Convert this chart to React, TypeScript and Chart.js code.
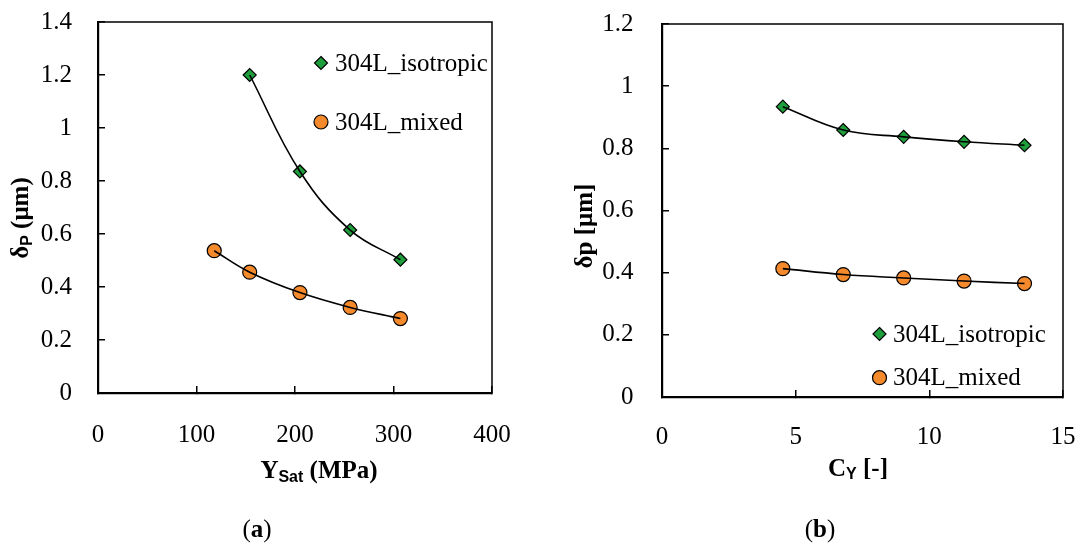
import React, { useEffect, useRef } from 'react';
import { Chart, registerables } from 'chart.js';

Chart.register(...registerables);

// ---- data ----
const seriesNames = ['304L_isotropic', '304L_mixed'];
// (a) delta_P vs Y_Sat
const ySatIsotropic = [154, 205, 256, 307];
const deltaIsotropicA = [1.2, 0.836, 0.615, 0.503];
const ySatMixed = [118, 154, 205, 256, 307];
const deltaMixedA = [0.537, 0.456, 0.379, 0.323, 0.281];
// (b) delta_p vs C_Y
const cY = [4.52, 6.78, 9.04, 11.3, 13.56];
const deltaIsotropicB = [0.934, 0.859, 0.837, 0.821, 0.81];
const deltaMixedB = [0.413, 0.394, 0.383, 0.373, 0.365];

const GREEN = '#1f9e3c';
const ORANGE = '#f58a2c';
const SERIF = "'Liberation Serif', 'Times New Roman', serif";
const SANS = "'Liberation Sans', Arial, sans-serif";

type Part = { text: string; font: string; dy?: number };

function measureParts(ctx: CanvasRenderingContext2D, parts: Part[]) {
  let total = 0;
  const widths = parts.map((p) => {
    ctx.font = p.font;
    const w = ctx.measureText(p.text).width;
    total += w;
    return w;
  });
  return { total, widths };
}

function drawParts(ctx: CanvasRenderingContext2D, parts: Part[], cx: number, y: number) {
  const { total, widths } = measureParts(ctx, parts);
  let x = cx - total / 2;
  ctx.textAlign = 'left';
  ctx.textBaseline = 'alphabetic';
  parts.forEach((p, i) => {
    ctx.font = p.font;
    ctx.fillText(p.text, x, y + (p.dy || 0));
    x += widths[i];
  });
}

function drawMarker(ctx: CanvasRenderingContext2D, style: string, x: number, y: number, r: number, fill: string) {
  ctx.save();
  ctx.beginPath();
  if (style === 'rectRot') {
    ctx.moveTo(x, y - r);
    ctx.lineTo(x + r, y);
    ctx.lineTo(x, y + r);
    ctx.lineTo(x - r, y);
    ctx.closePath();
  } else {
    ctx.arc(x, y, r, 0, Math.PI * 2);
  }
  ctx.fillStyle = fill;
  ctx.fill();
  ctx.lineWidth = 1.2;
  ctx.strokeStyle = '#000';
  ctx.stroke();
  ctx.restore();
}

type Params = {
  width: number;
  height: number;
  xMin: number;
  xMax: number;
  xStep: number;
  yMax: number;
  top: number;
  padRight: number;
  yAxisWidth: number;
  xAxisHeight: number;
  yTickPad: number;
  xTickPad: number;
  isoX: number[];
  isoY: number[];
  mixX: number[];
  mixY: number[];
  xTitle: Part[];
  xTitlePos: [number, number];
  yTitle: Part[];
  yTitlePos: [number, number];
  caption: Part[];
  captionPos: [number, number];
  legend: { x: number; y: number[]; textX: number; r: number[] };
};

function decorPlugin(p: Params) {
  return {
    id: 'decor',
    afterDraw(chart: any) {
      const ctx: CanvasRenderingContext2D = chart.ctx;
      const a = chart.chartArea;
      ctx.save();
      // top & right frame lines
      ctx.strokeStyle = '#000';
      ctx.lineWidth = 1.5;
      ctx.beginPath();
      ctx.moveTo(a.left, a.top);
      ctx.lineTo(a.right, a.top);
      ctx.lineTo(a.right, a.bottom);
      ctx.stroke();
      ctx.fillStyle = '#000';
      // x title
      drawParts(ctx, p.xTitle, p.xTitlePos[0], p.xTitlePos[1]);
      // y title (rotated)
      ctx.save();
      ctx.translate(p.yTitlePos[0], p.yTitlePos[1]);
      ctx.rotate(-Math.PI / 2);
      drawParts(ctx, p.yTitle, 0, 0);
      ctx.restore();
      // caption
      drawParts(ctx, p.caption, p.captionPos[0], p.captionPos[1]);
      // legend
      const ds = chart.data.datasets.filter((d: any) => d.label);
      ds.forEach((d: any, i: number) => {
        drawMarker(ctx, d.pointStyle, p.legend.x, p.legend.y[i], p.legend.r[i], d.backgroundColor);
        ctx.font = `25px ${SERIF}`;
        ctx.fillStyle = '#000';
        ctx.textAlign = 'left';
        ctx.textBaseline = 'middle';
        ctx.fillText(d.label, p.legend.textX, p.legend.y[i] + 1);
      });
      ctx.restore();
    },
  };
}

const fmt = (v: any) => String(Number(Number(v).toFixed(2)));

function makeConfig(p: Params): any {
  const pts = (xs: number[], ys: number[]) => xs.map((x, i) => ({ x, y: ys[i] }));
  const tickFont = { family: SERIF, size: 25 };
  return {
    type: 'scatter',
    data: {
      datasets: [
        {
          type: 'line',
          data: pts(p.isoX, p.isoY),
          borderColor: '#000',
          borderWidth: 1.6,
          pointRadius: 0,
          tension: 0.4,
          fill: false,
          order: 0,
        },
        {
          type: 'line',
          data: pts(p.mixX, p.mixY),
          borderColor: '#000',
          borderWidth: 1.6,
          pointRadius: 0,
          tension: 0.4,
          fill: false,
          order: 0,
        },
        {
          label: seriesNames[0],
          data: pts(p.isoX, p.isoY),
          pointStyle: 'rectRot',
          pointRadius: 6.5,
          backgroundColor: GREEN,
          borderColor: '#000',
          borderWidth: 1.2,
          order: 1,
        },
        {
          label: seriesNames[1],
          data: pts(p.mixX, p.mixY),
          pointStyle: 'circle',
          pointRadius: 7,
          backgroundColor: ORANGE,
          borderColor: '#000',
          borderWidth: 1.2,
          order: 1,
        },
      ],
    },
    options: {
      responsive: false,
      animation: false,
      layout: { padding: { top: p.top, right: p.padRight, left: 0, bottom: 0 } },
      plugins: { legend: { display: false }, tooltip: { enabled: false } },
      scales: {
        x: {
          type: 'linear',
          min: p.xMin,
          max: p.xMax,
          ticks: { stepSize: p.xStep, font: tickFont, color: '#000', padding: p.xTickPad, maxRotation: 0, callback: fmt },
          grid: { drawOnChartArea: false, drawTicks: true, tickLength: -7, color: '#000', lineWidth: 1.5 },
          border: { display: true, color: '#000', width: 2.2 },
          afterFit: (s: any) => {
            s.height = p.xAxisHeight;
            s.paddingLeft = 0;
            s.paddingRight = 0;
          },
        },
        y: {
          type: 'linear',
          min: 0,
          max: p.yMax,
          ticks: { stepSize: 0.2, font: tickFont, color: '#000', padding: p.yTickPad, callback: fmt },
          grid: { drawOnChartArea: false, drawTicks: true, tickLength: -7, color: '#000', lineWidth: 1.5 },
          border: { display: true, color: '#000', width: 2.2 },
          afterFit: (s: any) => {
            s.width = p.yAxisWidth;
            s.paddingTop = 0;
            s.paddingBottom = 0;
          },
        },
      },
    },
    plugins: [decorPlugin(p)],
  };
}

const BOLD = `bold 25px ${SERIF}`;
const SUB = `bold 16px ${SANS}`;

const paramsA: Params = {
  width: 545,
  height: 543,
  xMin: 0,
  xMax: 400,
  xStep: 100,
  yMax: 1.4,
  top: 22,
  padRight: 53,
  yAxisWidth: 98,
  xAxisHeight: 150,
  yTickPad: 33,
  xTickPad: 34,
  isoX: ySatIsotropic,
  isoY: deltaIsotropicA,
  mixX: ySatMixed,
  mixY: deltaMixedA,
  xTitle: [
    { text: 'Y', font: BOLD },
    { text: 'Sat', font: SUB, dy: 4 },
    { text: ' (MPa)', font: BOLD },
  ],
  xTitlePos: [319, 478],
  yTitle: [
    { text: 'δ', font: BOLD },
    { text: 'P', font: SUB, dy: 4 },
    { text: ' (μm)', font: BOLD },
  ],
  yTitlePos: [28, 218],
  caption: [
    { text: '(', font: `25px ${SERIF}` },
    { text: 'a', font: BOLD },
    { text: ')', font: `25px ${SERIF}` },
  ],
  captionPos: [257, 537],
  legend: { x: 321, y: [63, 122], textX: 335, r: [6.5, 7] },
};

const paramsB: Params = {
  width: 537,
  height: 543,
  xMin: 0,
  xMax: 15,
  xStep: 5,
  yMax: 1.2,
  top: 24,
  padRight: 19,
  yAxisWidth: 117,
  xAxisHeight: 146,
  yTickPad: 35.5,
  xTickPad: 32,
  isoX: cY,
  isoY: deltaIsotropicB,
  mixX: cY,
  mixY: deltaMixedB,
  xTitle: [
    { text: 'C', font: BOLD },
    { text: 'Y', font: SUB, dy: 3 },
    { text: ' [-]', font: BOLD },
  ],
  xTitlePos: [313, 476],
  yTitle: [{ text: 'δp [μm]', font: BOLD }],
  yTitlePos: [47, 226],
  caption: [
    { text: '(', font: `25px ${SERIF}` },
    { text: 'b', font: BOLD },
    { text: ')', font: `25px ${SERIF}` },
  ],
  captionPos: [275, 537],
  legend: { x: 334.5, y: [334, 377.7], textX: 348, r: [6.5, 7] },
};

function ChartCanvas({ params, left }: { params: Params; left: number }) {
  const ref = useRef<HTMLCanvasElement | null>(null);
  useEffect(() => {
    if (!ref.current) return;
    const chart = new Chart(ref.current, makeConfig(params));
    return () => chart.destroy();
  }, [params]);
  return (
    <canvas
      ref={ref}
      width={params.width}
      height={params.height}
      style={{ position: 'absolute', left, top: 0, width: params.width, height: params.height }}
    />
  );
}

export default function App() {
  return (
    <div style={{ position: 'absolute', left: 0, top: 0, width: 1082, height: 543, background: '#fff', overflow: 'hidden' }}>
      <ChartCanvas params={paramsA} left={0} />
      <ChartCanvas params={paramsB} left={545} />
    </div>
  );
}
